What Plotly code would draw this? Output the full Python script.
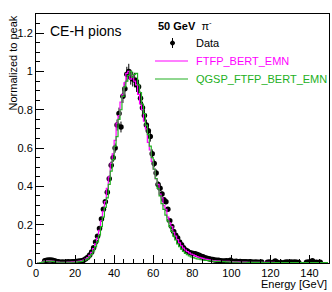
import plotly.graph_objects as go

# bin centres (1 GeV bins, 0-150 GeV)
bin_centers = [i + 0.5 for i in range(150)]

data_vals = [
    None, None, None, None, 0.012, 0.015, 0.016, 0.016, 0.015, 0.012,
    0.008, 0.006, 0.004, 0.005, 0.004, 0.005, 0.006, 0.005, 0.006, 0.007,
    0.008, 0.009, 0.010, 0.012, 0.016, 0.022, 0.030, 0.042, 0.058, 0.080,
    0.110, 0.140, 0.180, 0.230, 0.280, 0.320, 0.370, 0.440, 0.510, 0.550,
    0.600, 0.720, 0.780, 0.710, 0.870, 0.910, 0.985, 1.000, 0.970, 0.960,
    0.955, 0.930, 0.920, 0.860, 0.810, 0.770, 0.720, 0.690, 0.660, 0.570,
    0.520, 0.470, 0.410, 0.390, 0.360, 0.330, 0.320, 0.280, 0.220, 0.190,
    0.165, 0.145, 0.130, 0.110, 0.095, 0.080, 0.068, 0.062, 0.055, 0.052,
    0.050, 0.048, 0.045, 0.040, 0.035, 0.032, 0.028, 0.025, 0.022, 0.020,
    0.018, 0.016, 0.015, 0.014, 0.012, 0.011, 0.011, 0.012, 0.010, 0.015,
    0.009, 0.008, 0.009, 0.007, 0.008, 0.007, 0.006, 0.006, 0.005, 0.006,
    0.005, 0.004, 0.005, 0.004, 0.004, 0.005, None, None, 0.004, 0.005,
    None, 0.004, 0.010, 0.004, None, 0.003, None, 0.004, 0.005, 0.004,
    0.005, 0.004, 0.005, 0.004, 0.003, None, None, None, 0.004, 0.005,
    0.004, 0.012, 0.003, 0.004, 0.003, 0.004, None, None, None, None,
]

ftfp_vals = [
    0.0, 0.0, 0.002, 0.006, 0.010, 0.012, 0.012, 0.011, 0.010, 0.008,
    0.006, 0.005, 0.004, 0.004, 0.004, 0.004, 0.005, 0.005, 0.006, 0.006,
    0.007, 0.008, 0.010, 0.012, 0.015, 0.020, 0.028, 0.040, 0.055, 0.075,
    0.100, 0.130, 0.170, 0.220, 0.270, 0.320, 0.390, 0.450, 0.520, 0.570,
    0.640, 0.730, 0.770, 0.840, 0.880, 0.940, 0.990, 1.000, 0.960, 0.980,
    0.950, 0.930, 0.880, 0.830, 0.800, 0.740, 0.700, 0.630, 0.590, 0.530,
    0.490, 0.440, 0.410, 0.360, 0.340, 0.300, 0.280, 0.240, 0.210, 0.190,
    0.160, 0.140, 0.122, 0.105, 0.090, 0.078, 0.068, 0.060, 0.053, 0.047,
    0.042, 0.038, 0.034, 0.030, 0.027, 0.024, 0.021, 0.019, 0.017, 0.015,
    0.013, 0.012, 0.011, 0.011, 0.010, 0.009, 0.009, 0.008, 0.008, 0.007,
    0.007, 0.006, 0.006, 0.006, 0.005, 0.005, 0.005, 0.005, 0.004, 0.004,
    0.004, 0.004, 0.004, 0.003, 0.003, 0.003, 0.003, 0.003, 0.003, 0.003,
    0.003, 0.003, 0.002, 0.002, 0.002, 0.002, 0.002, 0.002, 0.002, 0.002,
    0.002, 0.002, 0.002, 0.002, 0.002, 0.002, 0.002, 0.002, 0.002, 0.002,
    0.002, 0.002, 0.002, 0.002, 0.002, 0.002, 0.002, 0.002, 0.002, 0.002,
]

qgsp_vals = [
    0.0, 0.0, 0.002, 0.005, 0.008, 0.010, 0.010, 0.010, 0.009, 0.007,
    0.005, 0.004, 0.004, 0.004, 0.004, 0.004, 0.004, 0.004, 0.004, 0.004,
    0.005, 0.006, 0.007, 0.009, 0.012, 0.016, 0.022, 0.032, 0.045, 0.063,
    0.085, 0.110, 0.145, 0.190, 0.240, 0.290, 0.340, 0.410, 0.480, 0.540,
    0.610, 0.660, 0.750, 0.800, 0.870, 0.920, 0.950, 0.980, 1.000, 0.970,
    0.985, 0.990, 0.930, 0.890, 0.830, 0.780, 0.720, 0.670, 0.610, 0.550,
    0.490, 0.440, 0.390, 0.350, 0.310, 0.280, 0.250, 0.220, 0.190, 0.165,
    0.140, 0.120, 0.100, 0.085, 0.072, 0.060, 0.050, 0.043, 0.037, 0.032,
    0.028, 0.025, 0.022, 0.020, 0.018, 0.016, 0.014, 0.013, 0.012, 0.011,
    0.010, 0.009, 0.009, 0.008, 0.008, 0.007, 0.007, 0.006, 0.006, 0.006,
    0.005, 0.005, 0.005, 0.004, 0.004, 0.004, 0.004, 0.004, 0.003, 0.003,
    0.003, 0.003, 0.003, 0.003, 0.003, 0.003, 0.002, 0.002, 0.002, 0.002,
    0.002, 0.002, 0.002, 0.002, 0.002, 0.002, 0.002, 0.002, 0.002, 0.002,
    0.002, 0.002, 0.002, 0.002, 0.002, 0.002, 0.002, 0.002, 0.002, 0.002,
    0.002, 0.002, 0.002, 0.002, 0.002, 0.002, 0.002, 0.002, 0.002, 0.002,
]

x_ticks = [0, 20, 40, 60, 80, 100, 120, 140]
y_ticks = [0, 0.2, 0.4, 0.6, 0.8, 1.0, 1.2]
y_tick_labels = ["0", "0.2", "0.4", "0.6", "0.8", "1", "1.2"]

MAGENTA = "#ff00ff"
GREEN = "#22b022"
FONT = "Liberation Sans, Arial, sans-serif"

fig = go.Figure()

fig.add_trace(go.Scatter(
    x=bin_centers, y=data_vals, mode="markers",
    marker=dict(color="black", size=5.5),
    error_y=dict(type="percent", value=4, color="black", thickness=1, width=0),
    showlegend=False,
))
fig.add_trace(go.Scatter(
    x=bin_centers, y=ftfp_vals, mode="lines", line_shape="hvh",
    line=dict(color=MAGENTA, width=1.2), showlegend=False,
))
fig.add_trace(go.Scatter(
    x=bin_centers, y=qgsp_vals, mode="lines", line_shape="hvh",
    line=dict(color=GREEN, width=1.2), showlegend=False,
))

L, R, T, B = 36, 3, 14, 29
W, H = 332, 292
pw, ph = W - L - R, H - T - B


def px(x):
    return (x - L) / pw


def py(y):
    return (H - B - y) / ph


axis_common = dict(
    showgrid=False, zeroline=False, showline=True, linecolor="black",
    linewidth=1, mirror=True, ticks="inside", tickcolor="black",
    ticklen=8, tickwidth=1,
    tickfont=dict(family=FONT, size=11, color="black"),
)

fig.update_xaxes(
    range=[0, 150], tickvals=x_ticks,
    minor=dict(dtick=5, ticks="inside", ticklen=4, tickcolor="black", tick0=0),
    **axis_common,
)
fig.update_yaxes(
    range=[0, 1.3], tickvals=y_ticks, ticktext=y_tick_labels,
    minor=dict(dtick=0.05, ticks="inside", ticklen=4, tickcolor="black", tick0=0),
    **axis_common,
)

annotations = [
    dict(text="Normalized to peak", xref="paper", yref="paper",
         x=px(12), y=1.0, xanchor="center", yanchor="top", textangle=-90,
         showarrow=False, font=dict(family=FONT, size=11, color="black")),
    dict(text="Energy [GeV]", xref="paper", yref="paper",
         x=1.0, y=py(284), xanchor="right", yanchor="middle",
         showarrow=False, font=dict(family=FONT, size=11, color="black")),
    dict(text="CE-H pions", xref="paper", yref="paper",
         x=px(48), y=py(31), xanchor="left", yanchor="middle",
         showarrow=False, font=dict(family=FONT, size=14, color="black")),
    dict(text="<b>50 GeV</b>  π<sup>-</sup>", xref="paper", yref="paper",
         x=px(156), y=py(25), xanchor="left", yanchor="middle",
         showarrow=False, font=dict(family=FONT, size=11, color="black")),
    dict(text="Data", xref="paper", yref="paper",
         x=px(194), y=py(43), xanchor="left", yanchor="middle",
         showarrow=False, font=dict(family=FONT, size=11, color="black")),
    dict(text="FTFP_BERT_EMN", xref="paper", yref="paper",
         x=px(194), y=py(61), xanchor="left", yanchor="middle",
         showarrow=False, font=dict(family=FONT, size=11, color=MAGENTA)),
    dict(text="QGSP_FTFP_BERT_EMN", xref="paper", yref="paper",
         x=px(194), y=py(79), xanchor="left", yanchor="middle",
         showarrow=False, font=dict(family=FONT, size=11, color=GREEN)),
]

shapes = [
    # legend: data marker with error bar
    dict(type="line", xref="paper", yref="paper", x0=px(172.5), x1=px(172.5),
         y0=py(38), y1=py(48), line=dict(color="black", width=1)),
    dict(type="circle", xref="paper", yref="paper", x0=px(170.5), x1=px(174.5),
         y0=py(45), y1=py(41), fillcolor="black", line=dict(color="black", width=1)),
    dict(type="line", xref="paper", yref="paper", x0=px(155), x1=px(188),
         y0=py(61), y1=py(61), line=dict(color=MAGENTA, width=1.2)),
    dict(type="line", xref="paper", yref="paper", x0=px(155), x1=px(188),
         y0=py(79), y1=py(79), line=dict(color=GREEN, width=1.2)),
]

fig.update_layout(
    width=W, height=H,
    margin=dict(l=L, r=R, t=T, b=B),
    paper_bgcolor="white", plot_bgcolor="white",
    annotations=annotations, shapes=shapes,
    font=dict(family=FONT, size=11, color="black"),
)

fig.write_html("out.html", config={"displayModeBar": False},
               post_script="document.body.style.margin='0';")
